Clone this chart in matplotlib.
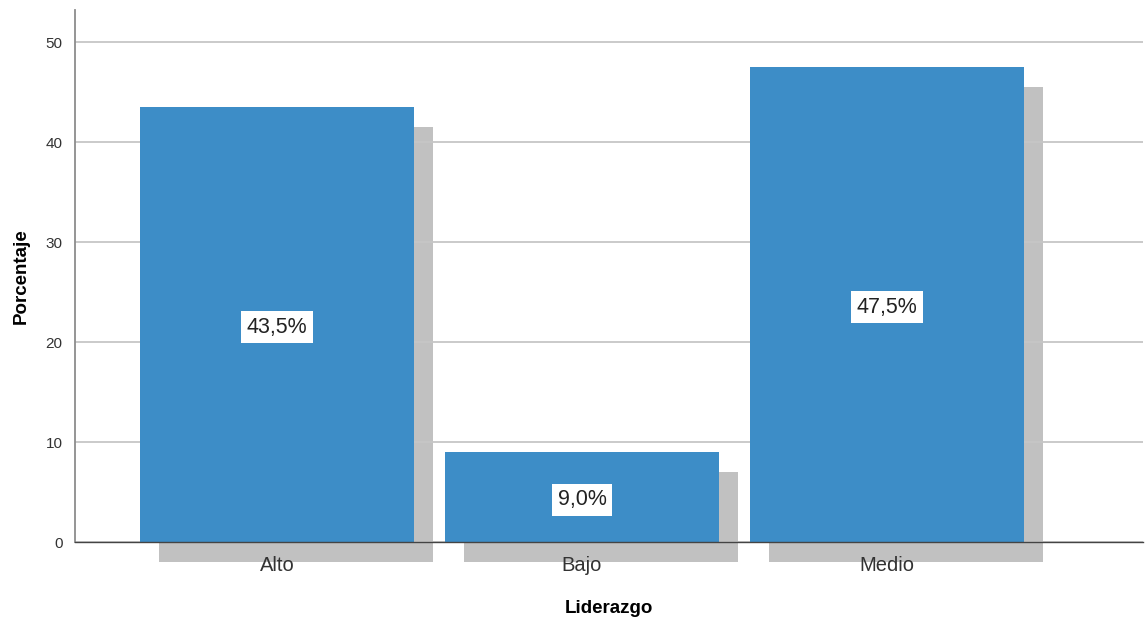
import matplotlib.pyplot as plt

categories = ["Alto", "Bajo", "Medio"]
percentages = [43.5, 9.0, 47.5]
value_labels = ["43,5%", "9,0%", "47,5%"]
y_ticks = [0, 10, 20, 30, 40, 50]

plt.rcParams["font.family"] = ["Liberation Sans", "DejaVu Sans"]

bar_color = "#3d8dc7"
shadow_color = "#c1c1c1"
grid_color = "#c6c6c6"

fig = plt.figure(figsize=(11.46, 6.21), dpi=100)
ax = fig.add_axes([75 / 1146, 1 - 542 / 621, (1143 - 75) / 1146, (542 - 10) / 621])

x = list(range(len(categories)))
width = 0.898
dx = 0.062   # shadow shift to the right
dy = 2.0     # shadow shift downward

# drop shadows
ax.bar([xi + dx for xi in x], percentages, width=width, bottom=-dy,
       color=shadow_color, zorder=1, clip_on=False, linewidth=0)
# main bars
ax.bar(x, percentages, width=width, color=bar_color, zorder=3, linewidth=0)

for xi, v, lab in zip(x, percentages, value_labels):
    ax.annotate(lab, (xi, v / 2), xytext=(0, -2), textcoords="offset points",
                ha="center", va="center", fontsize=15.5, color="#222222", zorder=5,
                bbox=dict(boxstyle="square,pad=0.25", fc="white", ec="none"))

ax.set_xlim(-0.662, 2.839)
ax.set_ylim(0, 53.2)
ax.set_yticks(y_ticks)
ax.set_xticks(x)
ax.set_xticklabels(categories, fontsize=14.5, color="#333333")
ax.tick_params(axis="y", length=0, pad=9, labelsize=11, labelcolor="#333333")
ax.tick_params(axis="x", length=0, pad=10)

ax.yaxis.grid(True, color=grid_color, linewidth=1.3)
for gl in ax.get_ygridlines():
    gl.set_zorder(2)

for side in ("top", "right"):
    ax.spines[side].set_visible(False)
ax.spines["left"].set_color("#8c8c8c")
ax.spines["left"].set_linewidth(1.3)
ax.spines["bottom"].set_color("#444444")
ax.spines["bottom"].set_linewidth(1.0)
ax.spines["bottom"].set_zorder(4)

ax.set_ylabel("Porcentaje", fontsize=13.5, fontweight="bold", labelpad=11)
ax.set_xlabel("Liderazgo", fontsize=13.5, fontweight="bold", labelpad=18)

fig.savefig("out.png", dpi=100)
